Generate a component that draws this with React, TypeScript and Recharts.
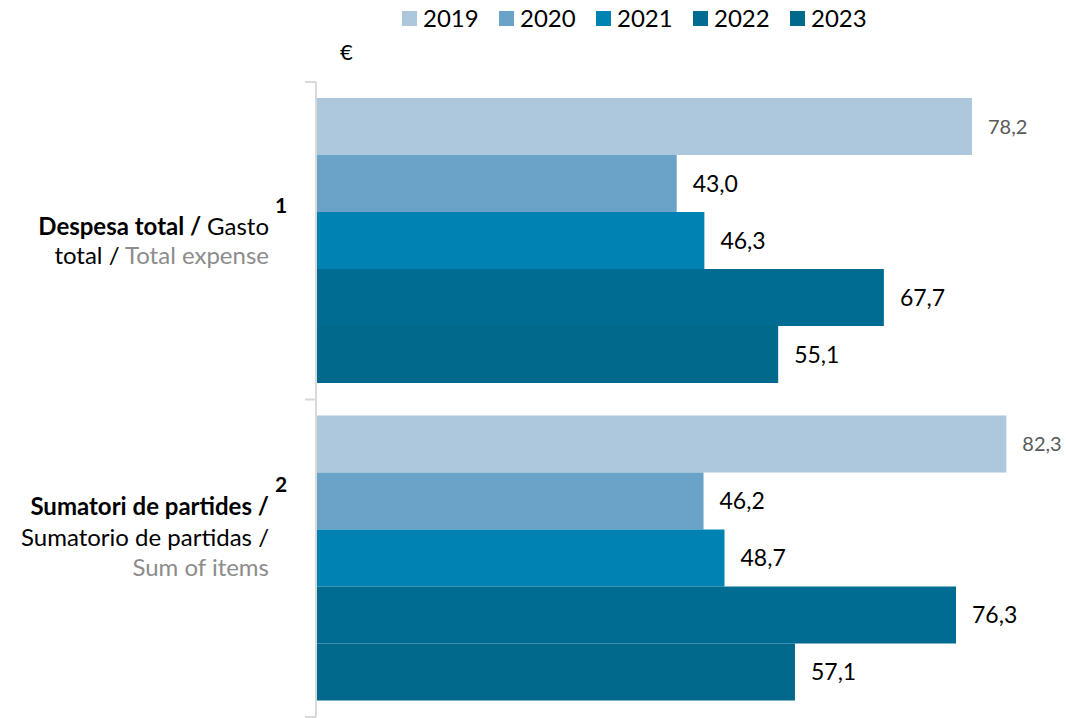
import { BarChart, Bar, XAxis, YAxis, Legend, LabelList } from "recharts";

const FONT = "Lato, 'Open Sans', sans-serif";

// categories (ids) and their label text pieces
const categories = ["total", "items"];
const superscripts = ["1", "2"];
const labelLines = [
  [
    [{ text: "Despesa total / ", tone: "ca" }, { text: "Gasto", tone: "es" }],
    [{ text: "total / ", tone: "es" }, { text: "Total expense", tone: "en" }],
  ],
  [
    [{ text: "Sumatori de partides /", tone: "ca" }],
    [{ text: "Sumatorio de partidas /", tone: "es" }],
    [{ text: "Sum of items", tone: "en" }],
  ],
];

const years = ["2019", "2020", "2021", "2022", "2023"];
const values2019 = [78.2, 82.3];
const values2020 = [43.0, 46.2];
const values2021 = [46.3, 48.7];
const values2022 = [67.7, 76.3];
const values2023 = [55.1, 57.1];
const seriesValues = [values2019, values2020, values2021, values2022, values2023];
const colors = ["#adc8dc", "#6aa3c8", "#0083b3", "#006c91", "#00698c"];

const data = categories.map((c, i) => {
  const row: Record<string, any> = { name: c };
  years.forEach((y, j) => (row[y] = seriesValues[j][i]));
  return row;
});

const W = 1066;
const H = 718;
const TOP = 82;
const BOTTOM = 1;
const BAND = (H - TOP - BOTTOM) / categories.length;

// baseline offsets from the band centre, per category
const lineOffsets = [
  [-6, 23],
  [-43, -12, 18],
];
const supOffsets = [-28, -66];

const toneStyle: Record<string, any> = {
  ca: { fill: "#000", fontWeight: 700 },
  es: { fill: "#000", fontWeight: 400 },
  en: { fill: "#8c8c8c", fontWeight: 400 },
};

const CategoryTick = (props: any) => {
  const { x, y, index } = props;
  const lines = labelLines[index];
  const isLast = index === categories.length - 1;
  return (
    <g>
      <line x1={x - 11} x2={x} y1={y - BAND / 2} y2={y - BAND / 2} stroke="#d9d9d9" strokeWidth={2} />
      {isLast && (
        <line x1={x - 11} x2={x} y1={y + BAND / 2} y2={y + BAND / 2} stroke="#d9d9d9" strokeWidth={2} />
      )}
      {lines.map((parts: any[], li: number) => (
        <text key={li} x={x - 47} y={y + lineOffsets[index][li]} textAnchor="end" fontSize={24} fontFamily={FONT}>
          {parts.map((p, pi) => (
            <tspan key={pi} {...toneStyle[p.tone]}>
              {p.text}
            </tspan>
          ))}
        </text>
      ))}
      <text x={x - 41} y={y + supOffsets[index]} fontSize={21} fontWeight={700} fontFamily={FONT} fill="#000">
        {superscripts[index]}
      </text>
    </g>
  );
};

const LegendContent = () => (
  <div style={{ position: "relative", height: 0, fontFamily: FONT }}>
    {years.map((y, i) => (
      <div
        key={y}
        style={{
          position: "absolute",
          left: 402 + i * 97,
          top: 3,
          display: "flex",
          alignItems: "center",
          fontSize: 24,
          lineHeight: "30px",
          color: "#000",
        }}
      >
        <span style={{ width: 15, height: 15, background: colors[i], marginRight: 6 }} />
        {y}
      </div>
    ))}
  </div>
);

const EuroLabel = (props: any) => {
  const { viewBox } = props;
  return (
    <text x={viewBox.x + viewBox.width + 24} y={viewBox.y - 22} fontSize={22} fontFamily={FONT} fill="#000">
      €
    </text>
  );
};

const fmt = (v: any) => Number(v).toFixed(1).replace(".", ",");

export default function App() {
  return (
    <div style={{ position: "absolute", left: 0, top: 0, background: "#fff" }}>
      <BarChart
        width={W}
        height={H}
        data={data}
        layout="vertical"
        margin={{ top: TOP, right: 37, bottom: BOTTOM, left: 0 }}
        barCategoryGap={16}
        barGap={0}
      >
        <XAxis type="number" domain={[0, 85]} hide />
        <YAxis
          type="category"
          dataKey="name"
          width={316}
          axisLine={{ stroke: "#d9d9d9", strokeWidth: 2 }}
          tickLine={false}
          tickSize={0}
          tickMargin={0}
          tick={<CategoryTick />}
          label={<EuroLabel />}
        />
        <Legend
          verticalAlign="top"
          content={<LegendContent />}
          wrapperStyle={{ top: 0, left: 0, width: W, height: 0 }}
        />
        {years.map((y, i) => (
          <Bar key={y} dataKey={y} fill={colors[i]} isAnimationActive={false}>
            <LabelList
              dataKey={y}
              position="right"
              offset={16}
              formatter={fmt}
              fill={i === 0 ? "#595959" : "#000"}
              fontSize={i === 0 ? 20 : 23}
              fontFamily={FONT}
            />
          </Bar>
        ))}
      </BarChart>
    </div>
  );
}
